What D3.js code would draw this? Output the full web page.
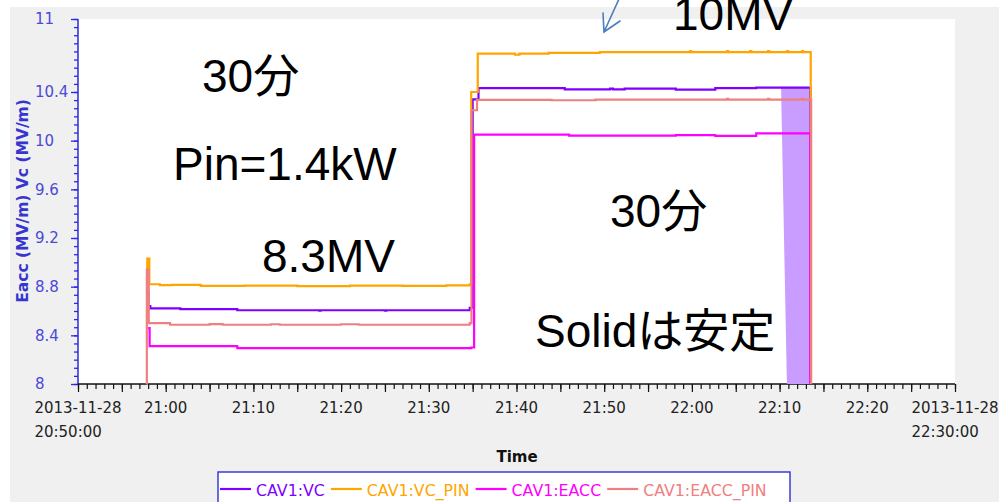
<!DOCTYPE html>
<html><head><meta charset="utf-8">
<script src="https://cdn.jsdelivr.net/npm/d3@7"></script>
<style>
body{margin:0;background:#fff;}
svg{display:block;}
</style>
</head><body>
<svg id="chart" width="999" height="502"></svg>
<script>
// ---------------- DATA ----------------
const DAY = "2013-11-28";
const xDomain = ["20:50:00", "22:30:00"];
const yDomain = [8, 11];
const yTickLabels = [8, 8.4, 8.8, 9.2, 9.6, 10, 10.4, 11];
const xTickLabels = ["21:00","21:10","21:20","21:30","21:40","21:50","22:00","22:10","22:20"];
const xEndLabels = [["2013-11-28","20:50:00"], ["2013-11-28","22:30:00"]];
const seriesNames = ["CAV1:VC", "CAV1:VC_PIN", "CAV1:EACC", "CAV1:EACC_PIN"];
const seriesColors = ["#7f00ff", "#ffa500", "#ff00ff", "#f08080"];

const vcData = [
 ["20:57:52", 8.76], ["20:58:02", 8.64], ["20:58:15", 8.622], ["21:01:40", 8.615],
 ["21:08:10", 8.606], ["21:17:30", 8.602], ["21:17:40", 8.606], ["21:25:00", 8.603],
 ["21:25:10", 8.606], ["21:34:40", 8.625], ["21:35:00", 10.34], ["21:35:40", 10.432],
 ["21:45:30", 10.422], ["21:50:40", 10.428], ["21:51:00", 10.422], ["21:52:20", 10.428],
 ["21:58:10", 10.42], ["22:02:40", 10.432], ["22:07:20", 10.436], ["22:13:30", 10.436],
 ["22:13:31", 8.0]
];
const vcPinData = [
 ["20:57:50", 8.60], ["20:57:54", 9.03], ["20:58:08", 8.82], ["20:59:20", 8.812],
 ["21:00:40", 8.815], ["21:04:00", 8.806], ["21:09:00", 8.809], ["21:15:00", 8.805],
 ["21:21:00", 8.809], ["21:27:00", 8.806], ["21:32:00", 8.81], ["21:34:40", 8.82],
 ["21:34:50", 10.40], ["21:35:35", 10.715], ["21:39:50", 10.706], ["21:40:20", 10.715],
 ["21:43:40", 10.722], ["21:49:30", 10.728], ["21:59:47", 10.737], ["21:59:55", 10.728],
 ["22:04:00", 10.737], ["22:04:08", 10.728], ["22:06:38", 10.737], ["22:06:46", 10.728],
 ["22:08:41", 10.737], ["22:08:49", 10.728], ["22:10:51", 10.737], ["22:10:59", 10.728],
 ["22:12:33", 10.737], ["22:12:41", 10.728], ["22:13:32", 10.728], ["22:13:33", 8.0]
];
const eaccData = [
 ["20:58:00", 8.46], ["20:58:10", 8.312], ["21:08:10", 8.295], ["21:34:50", 8.30],
 ["21:35:10", 10.05], ["21:46:00", 10.042], ["21:58:10", 10.045], ["22:02:40", 10.04],
 ["22:07:20", 10.06], ["22:13:30", 10.06], ["22:13:31", 8.0]
];
const eaccPinData = [
 ["20:57:50", 8.0], ["20:57:51", 8.94], ["20:58:04", 8.50], ["21:00:30", 8.487],
 ["21:05:00", 8.492], ["21:06:30", 8.487], ["21:12:00", 8.491], ["21:13:00", 8.487],
 ["21:20:00", 8.491], ["21:22:00", 8.487], ["21:34:40", 8.50], ["21:34:52", 10.25],
 ["21:35:30", 10.335], ["21:44:00", 10.332], ["21:49:00", 10.338], ["22:04:00", 10.344],
 ["22:04:08", 10.338], ["22:08:41", 10.344], ["22:08:49", 10.338], ["22:12:33", 10.344],
 ["22:12:41", 10.338], ["22:13:35", 10.338], ["22:13:36", 8.0]
];
const vcTripBand = [["22:10:10", 10.436], ["22:13:30", 10.436], ["22:13:30", 8.0], ["22:10:50", 8.0]];

const annotationTexts = ["30分", "Pin=1.4kW", "8.3MV", "10MV", "30分", "Solidは安定"];
const yAxisTitle = "Eacc (MV/m) Vc (MV/m)";
const xAxisTitle = "Time";

// ---------------- LAYOUT ----------------
const L = 78, R = 955, T = 19, B = 384;
const parse = d3.timeParse("%Y-%m-%d %H:%M:%S");
const tp = s => parse(DAY + " " + s);

const svg = d3.select("#chart");
svg.append("rect").attr("x", 10).attr("y", 7).attr("width", 989).attr("height", 495).attr("fill", "#f0f0f0");
svg.append("rect").attr("x", L).attr("y", T).attr("width", R - L).attr("height", B - T).attr("fill", "#fff");

const x = d3.scaleTime().domain(xDomain.map(tp)).range([L, R]);
const y = d3.scaleLinear().domain(yDomain).range([B, T]);

const FONT = "'DejaVu Sans', Tahoma, sans-serif";
const BIG = "'Liberation Sans', Arial, 'Noto Sans CJK JP', sans-serif";

// ---- Y axis
const yMinor = d3.range(0, 46).map(i => 8 + i * 0.4 / 6);
const yMajor = d3.range(0, 7).map(i => 8 + i * 0.4).concat([11]);
const yColor = "#2a2ae0";
const gy = svg.append("g").attr("transform", `translate(${L},0)`);
gy.call(d3.axisLeft(y).tickValues(yMinor).tickSize(4).tickFormat(""));
gy.append("g").call(d3.axisLeft(y).tickValues(yMajor).tickSize(7).tickFormat(""));
gy.selectAll(".domain").remove();
gy.selectAll("line").attr("stroke", yColor).attr("stroke-width", 1.3);
gy.append("line").attr("x1", 0).attr("x2", 0).attr("y1", T).attr("y2", B).attr("stroke", yColor).attr("stroke-width", 1.5);
gy.selectAll(".ylab").data(yTickLabels).enter().append("text")
  .attr("x", 35 - L).attr("y", d => y(d)).attr("dy", "0.36em")
  .attr("text-anchor", "start").attr("font-family", FONT).attr("font-size", 15)
  .attr("fill", "#4a4ad6").text(d => d3.format("")(d));
svg.append("text").attr("transform", `translate(28,201) rotate(-90)`)
  .attr("text-anchor", "middle").attr("font-family", FONT).attr("font-size", 15.5)
  .attr("font-weight", "bold").attr("fill", "#3535d0").text(yAxisTitle);

// ---- X axis
const gx = svg.append("g").attr("transform", `translate(0,${B})`);
gx.call(d3.axisBottom(x).ticks(d3.timeMinute.every(1)).tickSize(5).tickFormat(""));
gx.append("g").call(d3.axisBottom(x).ticks(d3.timeMinute.every(5)).tickSize(8).tickFormat(""));
gx.selectAll(".domain").remove();
gx.selectAll("line").attr("stroke", "#111").attr("stroke-width", 1.2);
gx.append("line").attr("x1", L).attr("x2", R).attr("y1", 0).attr("y2", 0).attr("stroke", "#111").attr("stroke-width", 1.3);
gx.selectAll(".xlab").data(xTickLabels).enter().append("text")
  .attr("x", d => x(tp(d + ":00"))).attr("y", 29).attr("text-anchor", "middle")
  .attr("font-family", FONT).attr("font-size", 15).attr("fill", "#222").text(d => d);
xEndLabels.forEach((lines, i) => {
  const cx = i === 0 ? L : R;
  const t1 = gx.append("text").attr("x", cx).attr("y", 29).attr("text-anchor", "middle")
    .attr("font-family", FONT).attr("font-size", 15).attr("fill", "#222").text(lines[0]);
  const w = t1.node().getComputedTextLength();
  gx.append("text").attr("x", cx - w / 2).attr("y", 53).attr("text-anchor", "start")
    .attr("font-family", FONT).attr("font-size", 15).attr("fill", "#222").text(lines[1]);
});
svg.append("text").attr("x", 517).attr("y", 462).attr("text-anchor", "middle")
  .attr("font-family", FONT).attr("font-size", 15).attr("font-weight", "bold").attr("fill", "#111").text(xAxisTitle);

// ---- Marks
const plot = svg.append("g");
const bandLine = d3.line().x(d => x(tp(d[0]))).y(d => y(d[1]));
plot.append("path").attr("d", bandLine(vcTripBand) + "Z").attr("fill", "#c99cff").attr("stroke", "none");

const line = d3.line().x(d => x(tp(d[0]))).y(d => y(d[1])).curve(d3.curveStepAfter);
const allSeries = [vcData, vcPinData, eaccData, eaccPinData];
allSeries.forEach((data, i) => {
  plot.append("path").datum(data).attr("d", line).attr("fill", "none")
    .attr("stroke", seriesColors[i]).attr("stroke-width", 2.2).attr("stroke-linejoin", "miter");
});

// ---- Annotations
const annPos = [[202, 92], [173, 180], [262, 272], [673, 30], [610, 227], [535, 347]];
annotationTexts.forEach((t, i) => {
  svg.append("text").attr("x", annPos[i][0]).attr("y", annPos[i][1])
    .attr("font-family", BIG).attr("font-size", 46).attr("fill", "#000").text(t);
});
// arrow
const ac = "#4a7ebb";
svg.append("path").attr("d", "M619,-1 L604,32 M603,13 L604,32 L620,21")
  .attr("fill", "none").attr("stroke", ac).attr("stroke-width", 1.6).attr("stroke-linecap", "round");

// ---- Legend
svg.append("rect").attr("x", 218).attr("y", 472).attr("width", 572).attr("height", 40)
  .attr("fill", "#fff").attr("stroke", "#3a3ad8").attr("stroke-width", 1.5);
let lx = 220;
seriesNames.forEach((n, i) => {
  svg.append("line").attr("x1", lx).attr("x2", lx + 31).attr("y1", 489).attr("y2", 489)
    .attr("stroke", seriesColors[i]).attr("stroke-width", 2.2);
  const t = svg.append("text").attr("x", lx + 36).attr("y", 495.5).attr("font-family", FONT)
    .attr("font-size", 15.8).attr("fill", seriesColors[i]).text(n);
  lx += 36 + t.node().getComputedTextLength() + 6;
});
</script>
</body></html>
